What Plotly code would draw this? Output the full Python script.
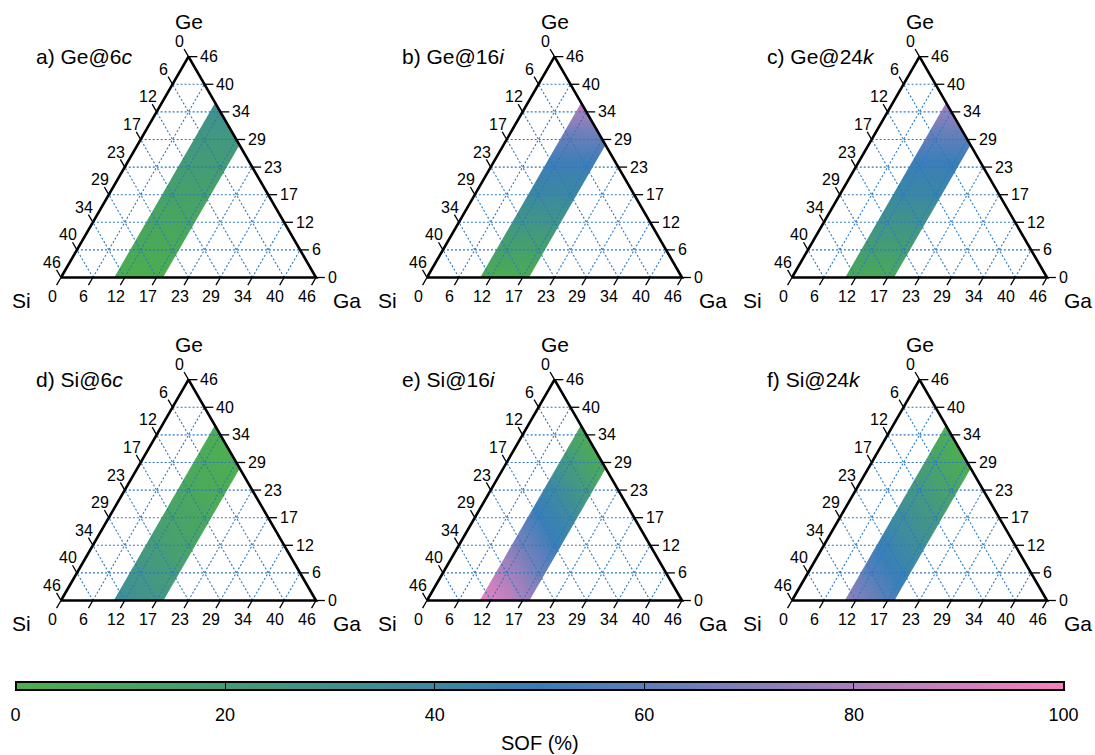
import numpy as np
import plotly.graph_objects as go
from plotly.colors import sample_colorscale

W, H = 1095, 755
FONT = "Liberation Sans, Arial, Helvetica, sans-serif"
S3 = np.sqrt(3) / 2

# ---------------- data ----------------
TOTAL = 46
TICK_VALUES = [0, 5.75, 11.5, 17.25, 23, 28.75, 34.5, 40.25, 46]
TICK_LABELS = ["0", "6", "12", "17", "23", "29", "34", "40", "46"]
GA_BAND = [9.6, 18.4]          # Ga content range of the explored compositions

COLORSCALE = [[0.0, "#4DAF4A"], [0.5, "#377EB8"], [1.0, "#F781BF"]]
CB_TICKS = [0, 20, 40, 60, 80, 100]

GE_LEVELS = [0, 6, 12, 18, 24, 30, 36]
SOF_GE_6C = [2, 6, 10, 15, 20, 26, 32]
SOF_GE_16I = [4, 15, 28, 41, 52, 64, 84]
SOF_GE_24K = [6, 18, 30, 42, 51, 62, 78]

SI_LEVELS = [0, 6, 12, 18, 24, 30, 36]
SOF_SI_6C = [3, 5, 9, 14, 21, 28, 36]
SOF_SI_16I = [4, 22, 40, 53, 67, 83, 95]
SOF_SI_24K = [3, 13, 25, 36, 48, 60, 73]

PANELS = [
    ("a) Ge@6<i>c</i>", "Ge", GE_LEVELS, SOF_GE_6C),
    ("b) Ge@16<i>i</i>", "Ge", GE_LEVELS, SOF_GE_16I),
    ("c) Ge@24<i>k</i>", "Ge", GE_LEVELS, SOF_GE_24K),
    ("d) Si@6<i>c</i>", "Si", SI_LEVELS, SOF_SI_6C),
    ("e) Si@16<i>i</i>", "Si", SI_LEVELS, SOF_SI_16I),
    ("f) Si@24<i>k</i>", "Si", SI_LEVELS, SOF_SI_24K),
]

# ---------------- layout geometry (pixels) ----------------
K = 255 / 46                      # px per composition unit
COL_PX = [(0, 365), (365, 730), (730, 1095)]
ROW_PX = [(0, 322), (323, 645)]
CORNER_X = [61, 427, 792]          # Si-corner pixel x per column
CORNER_Y = [277.5, 600.5]          # baseline pixel y per row
TICK_FS = 16
LABEL_FS = 21


def xy(ga, ge):
    return ga + ge / 2.0, ge * S3


def clip(poly, fn):
    out = []
    n = len(poly)
    for i in range(n):
        P, Q = poly[i], poly[(i + 1) % n]
        fp, fq = fn(P), fn(Q)
        if fp >= 0:
            out.append(P)
        if (fp >= 0) != (fq >= 0):
            t = fp / (fp - fq)
            out.append((P[0] + t * (Q[0] - P[0]), P[1] + t * (Q[1] - P[1])))
    return out


def sof_color(v):
    return sample_colorscale(COLORSCALE, [max(0, min(100, v)) / 100.0])[0]


fig = go.Figure()
annotations = []
layout_axes = {}

lo, hi = GA_BAND
band = [(lo, 0.0), (hi, 0.0), (hi, TOTAL - hi), (lo, TOTAL - lo)]  # (Ga, Ge)

for idx, (title, elem, levels, sof) in enumerate(PANELS):
    r, c = divmod(idx, 3)
    n = idx + 1
    xa = "x" if n == 1 else f"x{n}"
    ya = "y" if n == 1 else f"y{n}"
    L, R = COL_PX[c]
    T, B = ROW_PX[r]
    xr = [(L - CORNER_X[c]) / K, (R - CORNER_X[c]) / K]
    yr = [(CORNER_Y[r] - B) / K, (CORNER_Y[r] - T) / K]
    axcommon = dict(visible=False, showgrid=False, zeroline=False, fixedrange=True)
    layout_axes["xaxis" if n == 1 else f"xaxis{n}"] = dict(
        domain=[L / W, R / W], range=xr, anchor=ya, **axcommon)
    layout_axes["yaxis" if n == 1 else f"yaxis{n}"] = dict(
        domain=[1 - B / H, 1 - T / H], range=yr, anchor=xa, **axcommon)

    # ---- band ----
    if elem == "Ge":
        cs = [[g / TOTAL, sof_color(s)] for g, s in zip(levels, sof)]
        cs.append([1.0, sof_color(sof[-1])])
        bx, by = zip(*[xy(ga, ge) for ga, ge in band])
        fig.add_trace(go.Scatter(
            x=list(bx), y=list(by), xaxis=xa, yaxis=ya, mode="none",
            fill="toself", hoverinfo="skip", showlegend=False,
            fillgradient=dict(type="vertical", colorscale=cs,
                              start=0, stop=TOTAL * S3)))
    else:
        ds = 0.4
        smax = TOTAL - lo
        s = 0.0
        while s < smax - 1e-9:
            s1, s2 = s, min(s + ds, smax)
            poly = clip(band, lambda p, s1=s1: (TOTAL - s1) - p[0] - p[1])
            poly = clip(poly, lambda p, s2=s2: p[0] + p[1] - (TOTAL - s2))
            if len(poly) >= 3:
                col = sof_color(np.interp((s1 + s2) / 2, levels, sof))
                px_, py_ = zip(*[xy(ga, ge) for ga, ge in poly])
                fig.add_trace(go.Scatter(
                    x=list(px_) + [px_[0]], y=list(py_) + [py_[0]],
                    xaxis=xa, yaxis=ya, mode="lines", fill="toself",
                    fillcolor=col, line=dict(color=col, width=0.8),
                    hoverinfo="skip", showlegend=False))
            s += ds

    # ---- grid ----
    gx, gy = [], []
    for v in TICK_VALUES[1:-1]:
        for a, b in [((0, v), (TOTAL - v, v)),
                     ((v, 0), (v, TOTAL - v)),
                     ((TOTAL - v, 0), (0, TOTAL - v))]:
            p1, p2 = xy(*a), xy(*b)
            gx += [p1[0], p2[0], None]
            gy += [p1[1], p2[1], None]
    fig.add_trace(go.Scatter(x=gx, y=gy, xaxis=xa, yaxis=ya, mode="lines",
                             line=dict(color="#2a78c0", width=1.1, dash="2px,2px"),
                             hoverinfo="skip", showlegend=False))

    # ---- ticks ----
    TL = 1.6
    tx, ty = [], []
    dirs = {"left": (-0.5, S3), "bottom": (-0.5, -S3), "right": (1.0, 0.0)}
    tfont = dict(size=TICK_FS, family=FONT, color="black")
    for v, lab in zip(TICK_VALUES, TICK_LABELS):
        pts = {"left": xy(0, TOTAL - v), "bottom": xy(v, 0), "right": xy(TOTAL - v, v)}
        for side, p in pts.items():
            d = dirs[side]
            tx += [p[0], p[0] + TL * d[0], None]
            ty += [p[1], p[1] + TL * d[1], None]
        pl = pts["left"]
        annotations.append(dict(x=pl[0] - 1.6, y=pl[1] + 2.7, text=lab,
                                xref=xa, yref=ya, showarrow=False,
                                xanchor="center", yanchor="middle", font=tfont))
        pb = pts["bottom"]
        annotations.append(dict(x=pb[0] - 1.62, y=pb[1] - 3.4, text=lab,
                                xref=xa, yref=ya, showarrow=False,
                                xanchor="center", yanchor="middle", font=tfont))
        pr = pts["right"]
        annotations.append(dict(x=pr[0] + 1.75, y=pr[1], text=lab,
                                xref=xa, yref=ya, showarrow=False,
                                xanchor="left", yanchor="middle", font=tfont))
    fig.add_trace(go.Scatter(x=tx, y=ty, xaxis=xa, yaxis=ya, mode="lines",
                             line=dict(color="black", width=1.3),
                             hoverinfo="skip", showlegend=False))

    # ---- triangle ----
    corners = [xy(0, 0), xy(TOTAL, 0), xy(0, TOTAL)]
    fig.add_trace(go.Scatter(x=[p[0] for p in corners] + [corners[0][0]],
                             y=[p[1] for p in corners] + [corners[0][1]],
                             xaxis=xa, yaxis=ya, mode="lines",
                             line=dict(color="black", width=2.6),
                             hoverinfo="skip", showlegend=False))

    # ---- corner labels and title ----
    top = corners[2]
    lfont = dict(size=LABEL_FS, family=FONT, color="black")
    for txt, (x0, y0) in [("Ge", (top[0], top[1] + 6.4)),
                          ("Si", (-7.1, -4.07)),
                          ("Ga", (TOTAL + 5.55, -4.07))]:
        annotations.append(dict(x=x0, y=y0, text=txt, xref=xa, yref=ya,
                                showarrow=False, xanchor="center", yanchor="middle",
                                font=lfont))
    annotations.append(dict(x=-4.8, y=top[1], text=title, xref=xa, yref=ya,
                            showarrow=False, xanchor="left", yanchor="middle",
                            font=lfont))

# ---- colorbar (labels layer + tick/outline layer) ----
cb_common = dict(orientation="h", x=15.5 / W, xanchor="left",
                 len=1047.5 / W, lenmode="fraction",
                 y=1 - 682 / H, yanchor="top", thickness=8,
                 xpad=0, ypad=0, outlinewidth=2, outlinecolor="black",
                 tickvals=CB_TICKS)
fig.add_trace(go.Scatter(
    x=[None], y=[None], mode="markers", hoverinfo="skip", showlegend=False,
    marker=dict(color=[0], cmin=0, cmax=100, colorscale=COLORSCALE, showscale=True,
                colorbar=dict(**cb_common, ticks="outside", ticklen=9,
                              tickcolor="rgba(0,0,0,0)",
                              tickfont=dict(size=18, family=FONT, color="black")))))
fig.add_trace(go.Scatter(
    x=[None], y=[None], mode="markers", hoverinfo="skip", showlegend=False,
    marker=dict(color=[0], cmin=0, cmax=100, colorscale=COLORSCALE, showscale=True,
                colorbar=dict(**cb_common, ticks="inside", ticklen=8, tickwidth=1,
                              tickcolor="black", showticklabels=False))))
annotations.append(dict(x=539.5 / W, y=1 - 743 / H, xref="paper", yref="paper",
                        text="SOF (%)", showarrow=False, xanchor="center",
                        yanchor="middle",
                        font=dict(size=20, family=FONT, color="black")))

fig.update_layout(width=W, height=H, margin=dict(l=0, r=0, t=0, b=0),
                  paper_bgcolor="white", plot_bgcolor="white",
                  annotations=annotations, **layout_axes)
fig.write_html("out.html")
